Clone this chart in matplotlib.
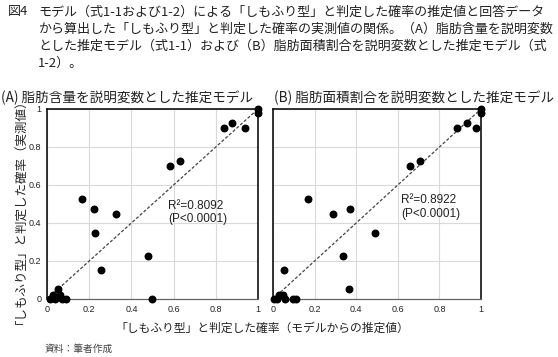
import matplotlib
matplotlib.use("Agg")
import matplotlib.pyplot as plt

plt.rcParams['font.family'] = ['Noto Sans CJK JP', 'DejaVu Sans']

# ---- data ----
ticks = [0, 0.2, 0.4, 0.6, 0.8, 1]
tick_labels = ["0", "0.2", "0.4", "0.6", "0.8", "1"]

a_x = [1.0, 1.0, 0.838, 0.879, 0.937, 0.584, 0.630, 0.168, 0.222, 0.227, 0.329,
       0.257, 0.481, 0.497, 0.015, 0.027, 0.040, 0.052, 0.060, 0.070, 0.089]
a_y = [1.0, 0.977, 0.902, 0.925, 0.902, 0.700, 0.725, 0.525, 0.475, 0.350, 0.450,
       0.151, 0.226, 0.0, 0.0, 0.023, 0.0, 0.051, 0.020, 0.0, 0.0]

b_x = [1.0, 1.0, 0.886, 0.931, 0.978, 0.660, 0.709, 0.170, 0.287, 0.368, 0.491,
       0.337, 0.364, 0.053, 0.005, 0.020, 0.030, 0.050, 0.060, 0.096, 0.109]
b_y = [1.0, 0.977, 0.902, 0.925, 0.902, 0.700, 0.725, 0.525, 0.450, 0.475, 0.350,
       0.226, 0.051, 0.151, 0.0, 0.0, 0.020, 0.020, 0.0, 0.0, 0.0]

a_stats = ["R²=0.8092", "(P<0.0001)"]
b_stats = ["R²=0.8922", "(P<0.0001)"]

caption_head = "図4"
caption_lines = [
    "モデル（式1-1および1-2）による「しもふり型」と判定した確率の推定値と回答データ",
    "から算出した「しもふり型」と判定した確率の実測値の関係。（A）脂肪含量を説明変数",
    "とした推定モデル（式1-1）および（B）脂肪面積割合を説明変数とした推定モデル（式",
    "1-2）。",
]
title_a = "(A) 脂肪含量を説明変数とした推定モデル"
title_b = "(B) 脂肪面積割合を説明変数とした推定モデル"
ylabel = "「しもふり型」と判定した確率（実測値）"
xlabel = "「しもふり型」と判定した確率（モデルからの推定値）"
source = "資料：筆者作成"

W, H = 558, 357
fig = plt.figure(figsize=(W / 100, H / 100), dpi=100)

def fx(px):
    return px / W

def fy(py):
    return 1 - py / H

num_font = ['Liberation Sans', 'DejaVu Sans']

def make_axes(left, right, x, y, stats, sx, sy, show_y):
    ax = fig.add_axes([fx(left), fy(299), fx(right - left), (299 - 109) / H])
    ax.set_xlim(0, 1)
    ax.set_ylim(0, 1)
    ax.set_xticks(ticks)
    ax.set_yticks(ticks)
    ax.set_xticklabels(tick_labels, fontsize=6.5, family=num_font, color="#222222")
    if show_y:
        ax.set_yticklabels(tick_labels, fontsize=6.5, family=num_font, color="#222222")
    else:
        ax.set_yticklabels([])
    ax.tick_params(length=0, pad=4)
    ax.grid(True, color="#d9d9d9", linewidth=0.8)
    ax.set_axisbelow(True)
    for side in ["left", "top", "right"]:
        ax.spines[side].set_color("#111111")
        ax.spines[side].set_linewidth(1.2)
    ax.spines["bottom"].set_color("#666666")
    ax.spines["bottom"].set_linewidth(0.9)
    ax.plot([0, 1], [0, 1], linestyle=(0, (2.5, 1.5)), color="#444444", linewidth=0.9, zorder=2)
    ax.scatter(x, y, s=22, color="black", zorder=3, clip_on=False)
    ax.text(sx, sy, stats[0] + "\n" + stats[1], fontsize=8.5, family=num_font,
            color="#222222", va="center", ha="left", linespacing=1.15)
    return ax

ax_a = make_axes(47, 258, a_x, a_y, a_stats, 0.575, 0.455, True)
ax_b = make_axes(273, 481, b_x, b_y, b_stats, 0.615, 0.485, False)

# caption
fig.text(fx(8), fy(12), caption_head, fontsize=9.4, va="center", ha="left", color="#222222")
for i, line in enumerate(caption_lines):
    fig.text(fx(38), fy(12 + i * 17), line, fontsize=9.4, va="center", ha="left", color="#222222")

fig.text(fx(1), fy(98), title_a, fontsize=9.8, va="center", ha="left", color="#222222")
fig.text(fx(274), fy(98), title_b, fontsize=9.8, va="center", ha="left", color="#222222")

fig.text(fx(14), fy(205), ylabel, fontsize=9, rotation=90, va="center", ha="center", color="#222222")
fig.text(fx(262), fy(328), xlabel, fontsize=8.5, va="center", ha="center", color="#222222")
fig.text(fx(45), fy(349), source, fontsize=7, va="center", ha="left", color="#444444")

fig.savefig("out.png", dpi=100)
